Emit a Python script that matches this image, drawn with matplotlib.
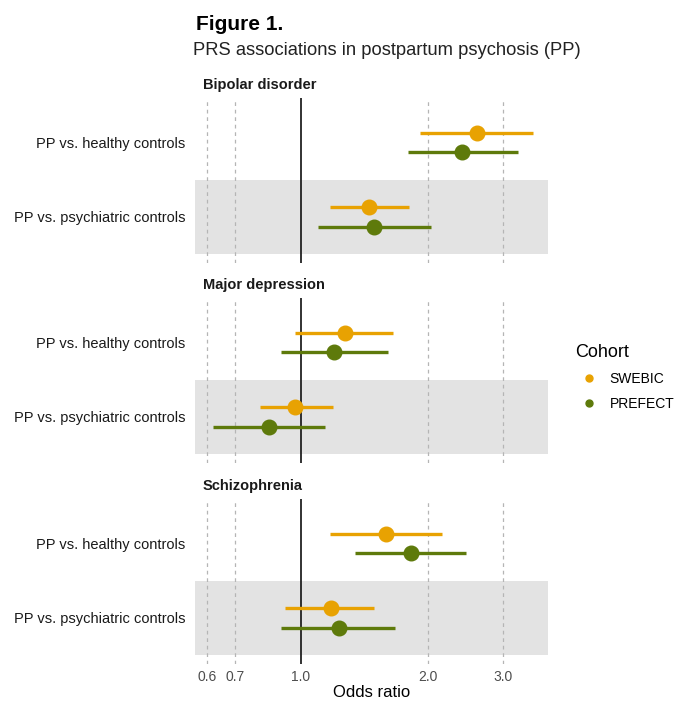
import numpy as np
import matplotlib.pyplot as plt

plt.rcParams['font.family'] = ['Liberation Sans', 'DejaVu Sans']

# Data (odds ratio, lower CI, upper CI)
traits = ["Bipolar disorder", "Major depression", "Schizophrenia"]
comparisons = ["PP vs. healthy controls", "PP vs. psychiatric controls"]
cohorts = ["SWEBIC", "PREFECT"]
colors = ["#E8A202", "#5E7A0B"]

# [trait][comparison]
swebic_or = [[2.60, 1.45], [1.27, 0.97], [1.59, 1.18]]
swebic_lo = [[1.91, 1.17], [0.97, 0.80], [1.17, 0.92]]
swebic_hi = [[3.53, 1.80], [1.65, 1.19], [2.16, 1.49]]
prefect_or = [[2.40, 1.49], [1.20, 0.84], [1.82, 1.23]]
prefect_lo = [[1.79, 1.10], [0.90, 0.62], [1.34, 0.90]]
prefect_hi = [[3.25, 2.03], [1.61, 1.14], [2.46, 1.67]]

xticks = [0.6, 0.7, 1.0, 2.0, 3.0]
xticklabels = ["0.6", "0.7", "1.0", "2.0", "3.0"]

fig = plt.figure(figsize=(6.92, 7.03), dpi=100)

left, width, height = 0.2818, 0.510, 0.2347
bottoms = [0.6259, 0.3414, 0.0555]

est = [swebic_or, prefect_or]
lo = [swebic_lo, prefect_lo]
hi = [swebic_hi, prefect_hi]
offsets = [0.13, -0.13]

for t, trait in enumerate(traits):
    ax = fig.add_axes([left, bottoms[t], width, height])
    ax.set_xscale('log')
    ax.set_xlim(0.563, 3.83)
    ax.set_ylim(0.38, 2.6)
    ax.axhspan(0.5, 1.5, color='#e3e3e3', zorder=0, lw=0)
    for xv in xticks:
        if xv == 1.0:
            ax.axvline(xv, color='#222222', lw=1.3, zorder=1)
        else:
            ax.axvline(xv, color='#b5b5b5', lw=0.9, ls=(0, (3, 3)), zorder=1)
    for c in range(2):
        for k in range(2):
            y = 2 - k + offsets[c]
            ax.plot([lo[c][t][k], hi[c][t][k]], [y, y], color=colors[c],
                    lw=2.4, solid_capstyle='butt', zorder=3)
            ax.plot(est[c][t][k], y, 'o', color=colors[c], ms=10.5, zorder=4)
    for s in ax.spines.values():
        s.set_visible(False)
    ax.set_yticks([2, 1])
    ax.set_yticklabels(comparisons, fontsize=10.5, color='#1a1a1a')
    ax.tick_params(axis='both', length=0, pad=7)
    ax.set_xticks(xticks)
    ax.xaxis.set_minor_locator(plt.NullLocator())
    if t == 2:
        ax.set_xticklabels(xticklabels, fontsize=10, color='#4d4d4d')
        ax.tick_params(axis='x', pad=4)
        ax.set_xlabel("Odds ratio", fontsize=12, labelpad=1)
    else:
        ax.set_xticklabels([])
    ax.text(0.022, 1.055, trait, transform=ax.transAxes, fontsize=10.5,
            fontweight='bold', color='#1a1a1a', va='baseline', ha='left')

fig.text(196 / 692, 1 - 30 / 703, "Figure 1.", fontsize=15, fontweight='bold',
         va='baseline', ha='left')
fig.text(193 / 692, 1 - 55 / 703, "PRS associations in postpartum psychosis (PP)",
         fontsize=13.2, va='baseline', ha='left', color='#222222')

leg_handles = [plt.Line2D([], [], marker='o', ls='', color=colors[i], ms=5)
               for i in range(2)]
fig.legend(leg_handles, cohorts, title="Cohort", loc='upper left',
           bbox_to_anchor=(565 / 692, 1 - 334 / 703), frameon=False,
           fontsize=10, title_fontsize=13, handletextpad=0.5,
           labelspacing=0.8, alignment='left', borderaxespad=0.3)

fig.savefig("out.png", dpi=100)
